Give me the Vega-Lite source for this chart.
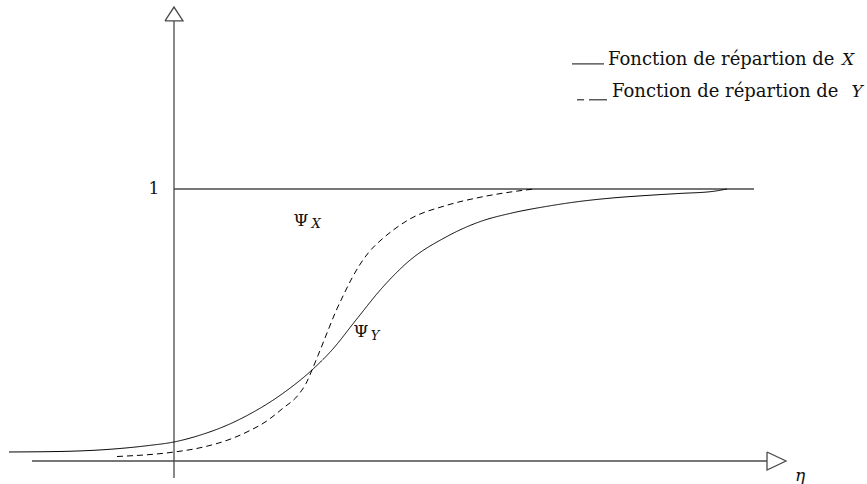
{
  "$schema": "https://vega.github.io/schema/vega-lite/v6.json",
  "width": 867,
  "height": 484,
  "padding": 0,
  "autosize": {"type": "fit", "contains": "padding"},
  "background": "white",
  "config": {"view": {"stroke": null}},
  "datasets": {
    "curves": [
      {"eta": -1.65, "p": 0.0331, "serie": "X"},
      {"eta": -1.15, "p": 0.0349, "serie": "X"},
      {"eta": -0.75, "p": 0.0404, "serie": "X"},
      {"eta": -0.25, "p": 0.0570, "serie": "X"},
      {"eta": 0.0, "p": 0.0699, "serie": "X"},
      {"eta": 0.25, "p": 0.0938, "serie": "X"},
      {"eta": 0.58, "p": 0.1397, "serie": "X"},
      {"eta": 0.75, "p": 0.1710, "serie": "X"},
      {"eta": 1.08, "p": 0.2463, "serie": "X"},
      {"eta": 1.38, "p": 0.3346, "serie": "X"},
      {"eta": 1.58, "p": 0.4081, "serie": "X"},
      {"eta": 1.82, "p": 0.5184, "serie": "X"},
      {"eta": 2.08, "p": 0.6360, "serie": "X"},
      {"eta": 2.35, "p": 0.7353, "serie": "X"},
      {"eta": 2.72, "p": 0.8235, "serie": "X"},
      {"eta": 3.05, "p": 0.8787, "serie": "X"},
      {"eta": 3.38, "p": 0.9118, "serie": "X"},
      {"eta": 3.72, "p": 0.9357, "serie": "X"},
      {"eta": 4.05, "p": 0.9540, "serie": "X"},
      {"eta": 4.38, "p": 0.9669, "serie": "X"},
      {"eta": 4.72, "p": 0.9761, "serie": "X"},
      {"eta": 5.05, "p": 0.9835, "serie": "X"},
      {"eta": 5.38, "p": 0.9908, "serie": "X"},
      {"eta": 5.53, "p": 1.0, "serie": "X"},
      {"eta": -0.57, "p": 0.0165, "serie": "Y"},
      {"eta": -0.02, "p": 0.0320, "serie": "Y"},
      {"eta": 0.25, "p": 0.0478, "serie": "Y"},
      {"eta": 0.58, "p": 0.0827, "serie": "Y"},
      {"eta": 0.75, "p": 0.1103, "serie": "Y"},
      {"eta": 0.92, "p": 0.1452, "serie": "Y"},
      {"eta": 1.08, "p": 0.1912, "serie": "Y"},
      {"eta": 1.25, "p": 0.2463, "serie": "Y"},
      {"eta": 1.32, "p": 0.2849, "serie": "Y"},
      {"eta": 1.38, "p": 0.3346, "serie": "Y"},
      {"eta": 1.44, "p": 0.3879, "serie": "Y"},
      {"eta": 1.55, "p": 0.4890, "serie": "Y"},
      {"eta": 1.62, "p": 0.5515, "serie": "Y"},
      {"eta": 1.70, "p": 0.6140, "serie": "Y"},
      {"eta": 1.78, "p": 0.6728, "serie": "Y"},
      {"eta": 1.95, "p": 0.7684, "serie": "Y"},
      {"eta": 2.07, "p": 0.8125, "serie": "Y"},
      {"eta": 2.20, "p": 0.8511, "serie": "Y"},
      {"eta": 2.35, "p": 0.8879, "serie": "Y"},
      {"eta": 2.72, "p": 0.9393, "serie": "Y"},
      {"eta": 3.05, "p": 0.9688, "serie": "Y"},
      {"eta": 3.38, "p": 0.9897, "serie": "Y"},
      {"eta": 3.60, "p": 1.0, "serie": "Y"}
    ],
    "frame": [
      {"grp": "xaxis", "o": 1, "eta": -1.42, "p": 0},
      {"grp": "xaxis", "o": 2, "eta": 5.93, "p": 0},
      {"grp": "xarrow", "o": 1, "eta": 5.93, "p": 0.033},
      {"grp": "xarrow", "o": 2, "eta": 6.12, "p": 0},
      {"grp": "xarrow", "o": 3, "eta": 5.93, "p": -0.033},
      {"grp": "xarrow", "o": 4, "eta": 5.93, "p": 0.033},
      {"grp": "yaxis", "o": 1, "eta": 0, "p": -0.0625},
      {"grp": "yaxis", "o": 2, "eta": 0, "p": 1.618},
      {"grp": "yarrow", "o": 1, "eta": -0.09, "p": 1.618},
      {"grp": "yarrow", "o": 2, "eta": 0, "p": 1.669},
      {"grp": "yarrow", "o": 3, "eta": 0.09, "p": 1.618},
      {"grp": "yarrow", "o": 4, "eta": -0.09, "p": 1.618},
      {"grp": "one", "o": 1, "eta": 0, "p": 1},
      {"grp": "one", "o": 2, "eta": 5.8, "p": 1}
    ],
    "legendlines": [
      {"grp": "lx", "o": 1, "eta": 3.98, "p": 1.460},
      {"grp": "lx", "o": 2, "eta": 4.30, "p": 1.460},
      {"grp": "ly1", "o": 1, "eta": 4.03, "p": 1.328},
      {"grp": "ly1", "o": 2, "eta": 4.10, "p": 1.328},
      {"grp": "ly2", "o": 1, "eta": 4.15, "p": 1.328},
      {"grp": "ly2", "o": 2, "eta": 4.33, "p": 1.328}
    ],
    "legendtext": [
      {"eta": 4.34, "p": 1.474, "t": "Fonction de répartion de"},
      {"eta": 4.38, "p": 1.357, "t": "Fonction de répartion de"}
    ],
    "roman": [
      {"eta": -0.2, "p": 1.0, "t": "1", "size": 17},
      {"eta": 1.27, "p": 0.882, "t": "Ψ", "size": 17},
      {"eta": 1.87, "p": 0.474, "t": "Ψ", "size": 17}
    ],
    "italic": [
      {"eta": 6.74, "p": 1.474, "t": "X", "size": 17},
      {"eta": 6.83, "p": 1.357, "t": "Y", "size": 17},
      {"eta": 1.42, "p": 0.871, "t": "X", "size": 13},
      {"eta": 2.01, "p": 0.46, "t": "Y", "size": 13},
      {"eta": 6.26, "p": -0.055, "t": "η", "size": 17}
    ]
  },
  "encoding": {
    "x": {"field": "eta", "type": "quantitative", "scale": {"domain": [-1.74, 6.93], "nice": false, "zero": false}, "axis": null},
    "y": {"field": "p", "type": "quantitative", "scale": {"domain": [-0.0846, 1.6949], "nice": false, "zero": false}, "axis": null}
  },
  "layer": [
    {
      "data": {"name": "frame"},
      "mark": {"type": "line", "color": "#4a4a4a", "strokeWidth": 1.3},
      "encoding": {
        "detail": {"field": "grp", "type": "nominal"},
        "order": {"field": "o", "type": "quantitative"}
      }
    },
    {
      "data": {"name": "curves"},
      "mark": {"type": "line", "color": "#000000", "strokeWidth": 1, "interpolate": "monotone"},
      "encoding": {
        "detail": {"field": "serie", "type": "nominal"},
        "strokeDash": {"field": "serie", "type": "nominal", "scale": {"domain": ["X", "Y"], "range": [[1, 0], [6, 4]]}, "legend": null}
      }
    },
    {
      "data": {"name": "legendlines"},
      "mark": {"type": "line", "color": "#333333", "strokeWidth": 1.2},
      "encoding": {
        "detail": {"field": "grp", "type": "nominal"},
        "order": {"field": "o", "type": "quantitative"}
      }
    },
    {
      "data": {"name": "legendtext"},
      "mark": {"type": "text", "font": "DejaVu Serif", "fontSize": 18, "align": "left", "baseline": "middle", "color": "#111111"},
      "encoding": {
        "text": {"field": "t", "type": "nominal"}
      }
    },
    {
      "data": {"name": "roman"},
      "mark": {"type": "text", "font": "DejaVu Serif", "align": "center", "baseline": "middle", "color": "#111111"},
      "encoding": {
        "text": {"field": "t", "type": "nominal"},
        "size": {"field": "size", "type": "quantitative", "scale": null}
      }
    },
    {
      "data": {"name": "italic"},
      "mark": {"type": "text", "font": "DejaVu Serif", "fontStyle": "italic", "align": "center", "baseline": "middle", "color": "#111111"},
      "encoding": {
        "text": {"field": "t", "type": "nominal"},
        "size": {"field": "size", "type": "quantitative", "scale": null}
      }
    }
  ]
}
